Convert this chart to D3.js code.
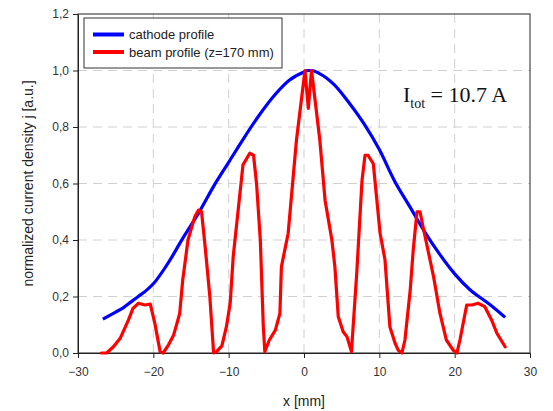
<!DOCTYPE html>
<html>
  <head>
    <meta charset="utf-8">
    <title>Cathode vs beam profile</title>
    <script src="https://d3js.org/d3.v7.min.js"></script>
    <style>
      body{
        margin: 0;
        background: #fff;
      }
      svg text{
        font-family: "Liberation Sans", Arial, sans-serif;
      }
      svg text.serif{
        font-family: "Liberation Serif", "Times New Roman", serif;
      }
      .grid line{
        stroke: #d0d0d0;
        stroke-dasharray: 9,6;
      }
    </style>
  </head>
  <body>
    <div id="container"></div>
    <script>

      // DATA
      const cathodeX = [-26.7, -25, -24, -23, -22, -21, -20, -18, -16, -14, -12, -10, -8, -6, -4, -2, 0, 0.5, 1, 2, 4, 6, 8, 10, 12, 14, 16, 18, 20, 22, 23.2, 24, 25, 26.7];
      const cathodeY = [0.12, 0.145, 0.16, 0.18, 0.20, 0.22, 0.245, 0.32, 0.41, 0.495, 0.59, 0.675, 0.76, 0.84, 0.91, 0.965, 0.995, 1.0, 1.0, 0.99, 0.95, 0.885, 0.81, 0.72, 0.61, 0.52, 0.43, 0.35, 0.28, 0.225, 0.2, 0.185, 0.165, 0.126];

      const beamX = [-26.9, -26.2, -25.3, -24.4, -23.3, -22.7, -22.0, -21.1, -20.4, -19.8, -19.1, -18.7, -18.0, -17.3, -16.5, -16.1, -15.4, -14.5, -14.0, -13.6, -13.1, -12.5, -12.0, -11.6, -10.9, -10.3, -9.8, -9.4, -8.1, -7.2, -6.7, -6.3, -5.8, -5.4, -5.2, -4.6, -3.8, -3.2, -3.0, -2.1, -1.0, 0.13, 0.57, 1.0, 2.1, 2.8, 3.7, 4.1, 4.55, 5.2, 5.7, 6.3, 7.0, 7.7, 8.1, 8.5, 9.2, 10.1, 10.75, 11.4, 12.1, 12.5, 13.0, 13.4, 14.1, 14.5, 15.0, 15.4, 15.8, 17.2, 18.05, 18.9, 19.8, 20.3, 20.7, 21.6, 22.3, 23.1, 24.0, 24.9, 25.6, 26.7];
      const beamY = [0.0, 0.0, 0.022, 0.052, 0.117, 0.158, 0.176, 0.17, 0.173, 0.105, 0.005, 0.0, 0.028, 0.064, 0.14, 0.258, 0.4, 0.482, 0.506, 0.5, 0.37, 0.2, 0.0, 0.005, 0.025, 0.093, 0.176, 0.34, 0.666, 0.707, 0.70, 0.6, 0.4, 0.093, 0.005, 0.046, 0.081, 0.14, 0.305, 0.424, 0.754, 1.0, 0.866, 1.0, 0.754, 0.54, 0.4, 0.305, 0.128, 0.075, 0.058, 0.005, 0.282, 0.61, 0.70, 0.70, 0.67, 0.424, 0.33, 0.093, 0.034, 0.01, 0.0, 0.046, 0.223, 0.365, 0.5, 0.5, 0.447, 0.27, 0.14, 0.046, 0.01, 0.0, 0.046, 0.17, 0.17, 0.176, 0.164, 0.117, 0.07, 0.022];

      const xTicks = [-30, -20, -10, 0, 10, 20, 30];
      const yTicks = [0, 0.2, 0.4, 0.6, 0.8, 1.0, 1.2];

      const seriesNames = ["cathode profile", "beam profile (z=170 mm)"];
      const seriesColors = ["#0000ff", "#ff0000"];

      // DIMENSIONS
      const W = 553, H = 411;
      const margin = { top: 14, right: 23, bottom: 58, left: 78 },
        width = W - margin.left - margin.right,
        height = H - margin.top - margin.bottom;

      const svgRoot = d3.select("#container")
        .append("svg")
        .attr("width", W)
        .attr("height", H);

      const svg = svgRoot.append("g")
        .attr("transform", "translate(" + margin.left + "," + margin.top + ")");

      // SCALES
      const x = d3.scaleLinear().domain([-30, 30]).range([0, width]);
      const y = d3.scaleLinear().domain([0, 1.2]).range([height, 0]);

      // GRID
      const grid = svg.append("g").attr("class", "grid");
      grid.selectAll(".vg")
        .data(xTicks.slice(1, -1))
        .enter().append("line")
        .attr("x1", d => x(d)).attr("x2", d => x(d))
        .attr("y1", 0).attr("y2", height);
      grid.selectAll(".hg")
        .data(yTicks.slice(1, -1))
        .enter().append("line")
        .attr("x1", 0).attr("x2", width)
        .attr("y1", d => y(d)).attr("y2", d => y(d));

      // AXES
      const fmt = d => d3.format(".1f")(d).replace(".", ",");
      const xAxis = svg.append("g")
        .attr("transform", "translate(0," + height + ")")
        .call(d3.axisBottom(x).tickValues(xTicks).tickSize(5).tickPadding(9).tickSizeOuter(0));
      const yAxis = svg.append("g")
        .call(d3.axisLeft(y).tickValues(yTicks).tickFormat(fmt).tickSize(5).tickPadding(4).tickSizeOuter(0));
      [xAxis, yAxis].forEach(a => {
        a.selectAll("text").attr("font-size", 12).attr("fill", "#333");
        a.selectAll("line").attr("stroke", "#222");
        a.select(".domain").attr("stroke", "#222");
      });

      // FRAME (top + right)
      svg.append("rect")
        .attr("x", 0).attr("y", 0)
        .attr("width", width).attr("height", height)
        .attr("fill", "none")
        .attr("stroke", "#222");

      // LINES
      const line = d3.line()
        .x(d => x(d[0]))
        .y(d => y(d[1]));

      const cathode = cathodeX.map((v, i) => [v, cathodeY[i]]);
      const beam = beamX.map((v, i) => [v, beamY[i]]);

      svg.append("path")
        .datum(cathode)
        .attr("d", line.curve(d3.curveMonotoneX))
        .attr("fill", "none")
        .attr("stroke", seriesColors[0])
        .attr("stroke-width", 3.2)
        .attr("stroke-linejoin", "round");

      svg.append("path")
        .datum(beam)
        .attr("d", line.curve(d3.curveLinear))
        .attr("fill", "none")
        .attr("stroke", seriesColors[1])
        .attr("stroke-width", 3.2)
        .attr("stroke-linejoin", "round")
        .attr("stroke-linecap", "round");

      // LEGEND
      const legend = svgRoot.append("g").attr("transform", "translate(84,18)");
      legend.append("rect")
        .attr("width", 198).attr("height", 50)
        .attr("fill", "#fff")
        .attr("stroke", "#333");
      seriesNames.forEach((name, i) => {
        const ly = 16.5 + i * 17.5;
        legend.append("line")
          .attr("x1", 9).attr("x2", 40)
          .attr("y1", ly).attr("y2", ly)
          .attr("stroke", seriesColors[i])
          .attr("stroke-width", 4);
        legend.append("text")
          .attr("x", 45).attr("y", ly + 4.5)
          .attr("font-size", 13)
          .attr("fill", "#222")
          .text(name);
      });

      // ANNOTATION
      const ann = svgRoot.append("text")
        .attr("class", "serif")
        .attr("x", 403).attr("y", 102)
        .attr("font-size", 22)
        .attr("fill", "#111");
      ann.append("tspan").text("I");
      ann.append("tspan").attr("font-size", 14).attr("dy", 6).text("tot");
      ann.append("tspan").attr("dy", -6).text(" = 10.7 A");

      // AXIS TITLES
      svgRoot.append("text")
        .attr("x", margin.left + width / 2)
        .attr("y", 406)
        .attr("text-anchor", "middle")
        .attr("font-size", 14)
        .attr("fill", "#222")
        .text("x [mm]");

      svgRoot.append("text")
        .attr("transform", "translate(33," + (margin.top + height / 2) + ") rotate(-90)")
        .attr("text-anchor", "middle")
        .attr("font-size", 14)
        .attr("fill", "#222")
        .text("normalized current density j [a.u.]");

    </script>
  </body>
</html>
